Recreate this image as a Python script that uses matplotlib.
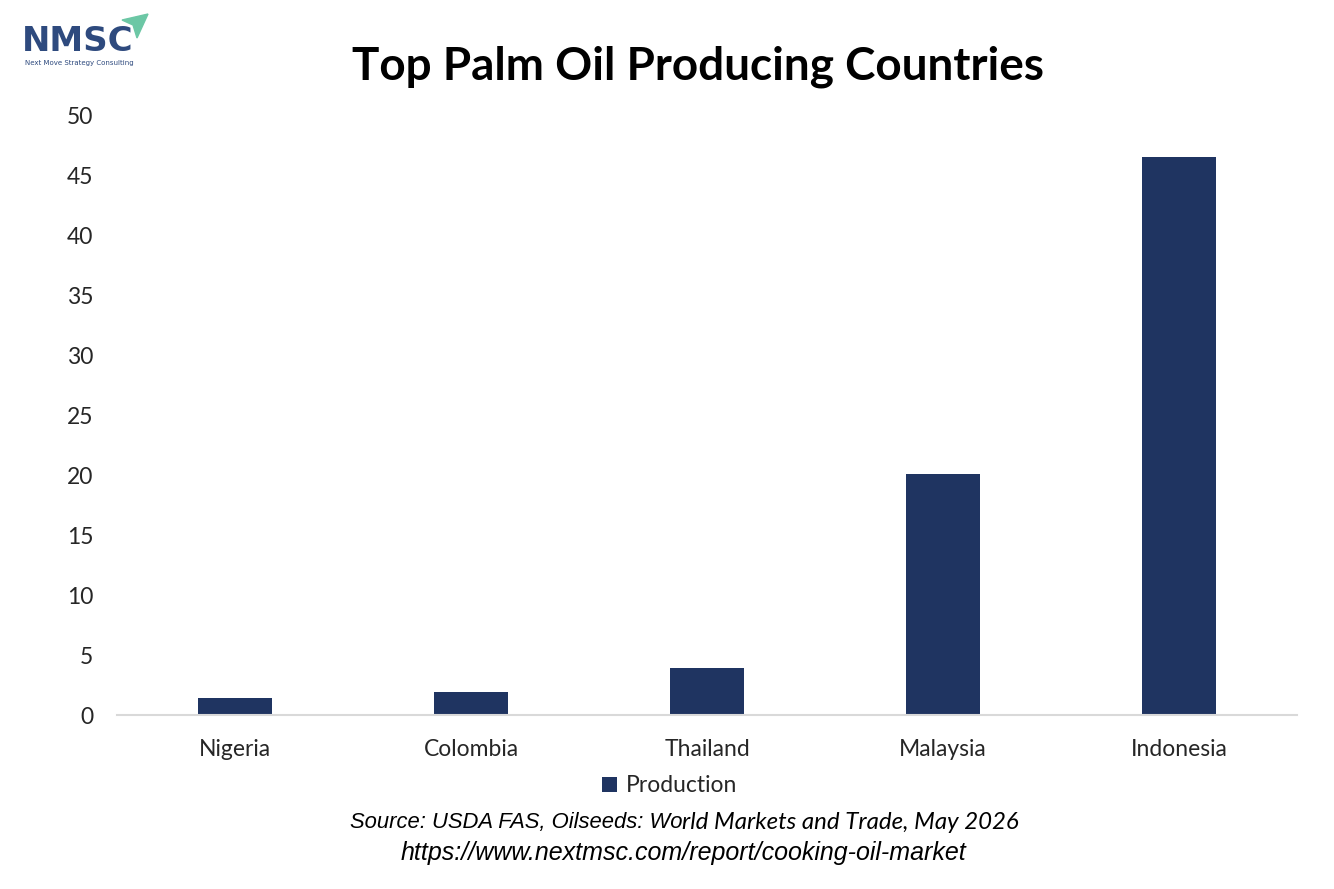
import matplotlib.pyplot as plt
from matplotlib.patches import Polygon
import numpy as np

countries = ["Nigeria", "Colombia", "Thailand", "Malaysia", "Indonesia"]
production = [1.4, 1.9, 3.9, 20.1, 46.5]
y_ticks = [0, 5, 10, 15, 20, 25, 30, 35, 40, 45, 50]

BAR_COLOR = "#1F3461"
TEXT_COLOR = "#262626"

plt.rcParams["font.family"] = ["Lato", "DejaVu Sans"]

fig = plt.figure(figsize=(13.34, 8.89), dpi=100)
ax = fig.add_axes([0.0877, 0.1957, 0.8846, 0.6749])

x = np.arange(len(countries))
bars = ax.bar(x, production, 0.31, color=BAR_COLOR, label="Production")

ax.set_xlim(-0.5, len(countries) - 0.5)
ax.set_ylim(0, 50)
ax.set_yticks(y_ticks)
ax.set_xticks(x)
ax.set_xticklabels(countries)
ax.tick_params(axis="both", length=0, labelsize=16.5, colors=TEXT_COLOR)
ax.tick_params(axis="y", pad=17)
ax.tick_params(axis="x", pad=17)
for side in ["top", "right", "left"]:
    ax.spines[side].set_visible(False)
ax.spines["bottom"].set_color("#D9D9D9")
ax.spines["bottom"].set_linewidth(1.5)

fig.legend(loc="center", bbox_to_anchor=(0.502, 0.116), frameon=False,
           fontsize=16.5, handlelength=0.65, handleheight=0.65, handletextpad=0.4,
           labelcolor=TEXT_COLOR)

fig.text(0.5235, 0.925, "Top Palm Oil Producing Countries", ha="center", va="center",
         fontsize=33, fontweight="bold", color="black")

# source line is set in two fonts, like the original
src1 = fig.text(350 / 1334, 0.075, "Source: USDA FAS, Oilseeds: Wo", ha="left",
                va="center", fontsize=15.8, style="italic", family="Liberation Sans",
                color="black")
fig.canvas.draw()
x_end = src1.get_window_extent().x1 / fig.bbox.width
fig.text(x_end, 0.075, "rld Markets and Trade, May 2026", ha="left", va="center",
         fontsize=17.3, style="italic", family="Lato", color="black")
fig.text(683 / 1334, 0.041, "https://www.nextmsc.com/report/cooking-oil-market",
         ha="center", va="center", fontsize=18, style="italic",
         family="Liberation Sans", color="black")

# logo
fig.text(0.0165, 0.953, "NMSC", ha="left", va="center", fontsize=24.5,
         fontweight="bold", color="#2E4A7E", family="DejaVu Sans")
fig.text(0.0185, 0.929, "Next Move Strategy Consulting", ha="left", va="center",
         fontsize=5, color="#2E4A7E", family="DejaVu Sans")
tri = Polygon([[122 / 1334, 1 - 20 / 889], [148 / 1334, 1 - 14 / 889],
               [137 / 1334, 1 - 38 / 889], [133 / 1334, 1 - 25 / 889]],
              closed=True, transform=fig.transFigure, color="#6CC7A5")
fig.patches.append(tri)

fig.savefig("out.png", dpi=100, facecolor="white")
